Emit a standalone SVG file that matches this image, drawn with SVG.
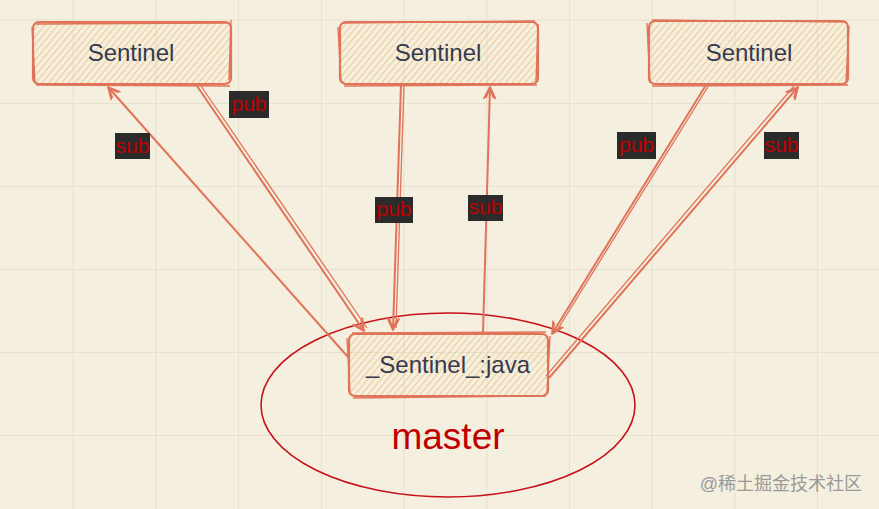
<svg xmlns="http://www.w3.org/2000/svg" width="879" height="509" viewBox="0 0 879 509">
<defs>
<pattern id="hatch" width="5" height="5" patternUnits="userSpaceOnUse" patternTransform="rotate(40)">
<line x1="0" y1="0" x2="0" y2="5" stroke="#efbd73" stroke-width="1.5"/>
</pattern>
<marker id="arr" viewBox="-14 -8 16 16" markerWidth="16" markerHeight="16" refX="0" refY="0" orient="auto" markerUnits="userSpaceOnUse">
<path d="M -12 -6 L 0 0 L -12 6 M -11 -4 L -1 0 L -11 4" fill="none" stroke="#e0735a" stroke-width="1.8" stroke-linejoin="round"/>
</marker>
</defs>
<style>
.bg{fill:#f4efdf}
.grid line{stroke:#e6e1ce;stroke-width:1}
.box{fill:url(#hatch);stroke:none}
.edge{fill:none;stroke:#e0735a;stroke-width:2.2}
.edge2{fill:none;stroke:#e0735a;stroke-width:1.4}
.conn line{stroke:#e0735a;stroke-width:2;fill:none}
.conn .thin{stroke-width:1.3}
.t{font-family:"Liberation Sans",Arial,Helvetica,sans-serif;fill:#363a4f;text-anchor:middle}
.lblbg{fill:#2b2b2b}
.lbl{font-family:"Liberation Sans",Arial,sans-serif;font-size:21px;fill:#c00000;text-anchor:middle}
</style>
<rect class="bg" x="0" y="0" width="879" height="509"/>
<g class="grid">
<line x1="73" y1="0" x2="73" y2="509"/>
<line x1="156" y1="0" x2="156" y2="509"/>
<line x1="238.5" y1="0" x2="238.5" y2="509"/>
<line x1="321.5" y1="0" x2="321.5" y2="509"/>
<line x1="404" y1="0" x2="404" y2="509"/>
<line x1="487" y1="0" x2="487" y2="509"/>
<line x1="569.5" y1="0" x2="569.5" y2="509"/>
<line x1="652" y1="0" x2="652" y2="509"/>
<line x1="735" y1="0" x2="735" y2="509"/>
<line x1="817.5" y1="0" x2="817.5" y2="509"/>
<line x1="0" y1="20" x2="879" y2="20"/>
<line x1="0" y1="103.5" x2="879" y2="103.5"/>
<line x1="0" y1="186.5" x2="879" y2="186.5"/>
<line x1="0" y1="269.5" x2="879" y2="269.5"/>
<line x1="0" y1="352.5" x2="879" y2="352.5"/>
<line x1="0" y1="435.5" x2="879" y2="435.5"/>
</g>

<g id="master-zone">
<ellipse cx="448" cy="405" rx="187" ry="92" fill="none" stroke="#c8101a" stroke-width="1.6"/>
<text class="t" x="448" y="449" font-size="37" style="fill:#c00000">master</text>
</g>

<g id="conn" class="conn">
<line x1="348" y1="357" x2="108" y2="87" marker-end="url(#arr)"/>
<line x1="197" y1="86" x2="364" y2="331" marker-end="url(#arr)"/>
<line class="thin" x1="201" y1="86" x2="367" y2="328"/>
<line x1="401" y1="85" x2="393" y2="330" marker-end="url(#arr)"/>
<line class="thin" x1="404" y1="85" x2="396" y2="328"/>
<line x1="483" y1="333" x2="490" y2="87" marker-end="url(#arr)"/>
<line x1="706" y1="85" x2="552" y2="334" marker-end="url(#arr)"/>
<line class="thin" x1="709" y1="85" x2="556" y2="332"/>
<line x1="549" y1="378" x2="798" y2="87" marker-end="url(#arr)"/>
<line class="thin" x1="546" y1="376" x2="794" y2="86"/>
</g>

<g id="sentinel-left">
<rect class="box" x="33" y="22" width="198" height="62" rx="6"/>
<rect class="edge" x="33" y="22" width="198" height="62" rx="6"/>
<path class="edge2" d="M36 24 L229 23 M32 27 L35 83 M231 20 L229 80 M36 85 L230 86"/>
<text class="t" x="131" y="61" font-size="24">Sentinel</text>
</g>

<g id="sentinel-middle">
<rect class="box" x="340" y="22" width="198" height="62" rx="6"/>
<rect class="edge" x="340" y="22" width="198" height="62" rx="6"/>
<path class="edge2" d="M343 23 L535 21 M338 27 L341 82 M538 24 L536 82 M344 86 L537 85"/>
<text class="t" x="438" y="61" font-size="24">Sentinel</text>
</g>

<g id="sentinel-right">
<rect class="box" x="649" y="21" width="199" height="63" rx="6"/>
<rect class="edge" x="649" y="21" width="199" height="63" rx="6"/>
<path class="edge2" d="M652 20 L846 22 M647 23 L650 83 M849 26 L846 83 M652 86 L848 85"/>
<text class="t" x="749" y="61" font-size="24">Sentinel</text>
</g>

<g id="sentinel-java">
<rect class="box" x="349" y="334" width="199" height="62" rx="6"/>
<rect class="edge" x="349" y="334" width="199" height="62" rx="6"/>
<path class="edge2" d="M352 333 L546 332 M347 338 L350 394 M550 336 L547 394 M353 398 L546 396"/>
<text class="t" x="448" y="373" font-size="24">_Sentinel_:java</text>
</g>

<g id="labels">
<rect class="lblbg" x="115" y="133" width="35" height="26"/>
<text class="lbl" x="132.5" y="153">sub</text>
<rect class="lblbg" x="229" y="91" width="40" height="27"/>
<text class="lbl" x="249" y="111">pub</text>
<rect class="lblbg" x="375" y="197" width="38" height="26"/>
<text class="lbl" x="394" y="216">pub</text>
<rect class="lblbg" x="468" y="195" width="35" height="26"/>
<text class="lbl" x="485.5" y="214">sub</text>
<rect class="lblbg" x="617" y="132" width="39" height="27"/>
<text class="lbl" x="636.5" y="152">pub</text>
<rect class="lblbg" x="764" y="132" width="35" height="27"/>
<text class="lbl" x="781.5" y="152">sub</text>
</g>

<text x="862" y="490" font-family="'Liberation Sans','Noto Sans CJK SC',sans-serif" font-size="18" fill="#9a9a9a" text-anchor="end">@稀土掘金技术社区</text>
</svg>
